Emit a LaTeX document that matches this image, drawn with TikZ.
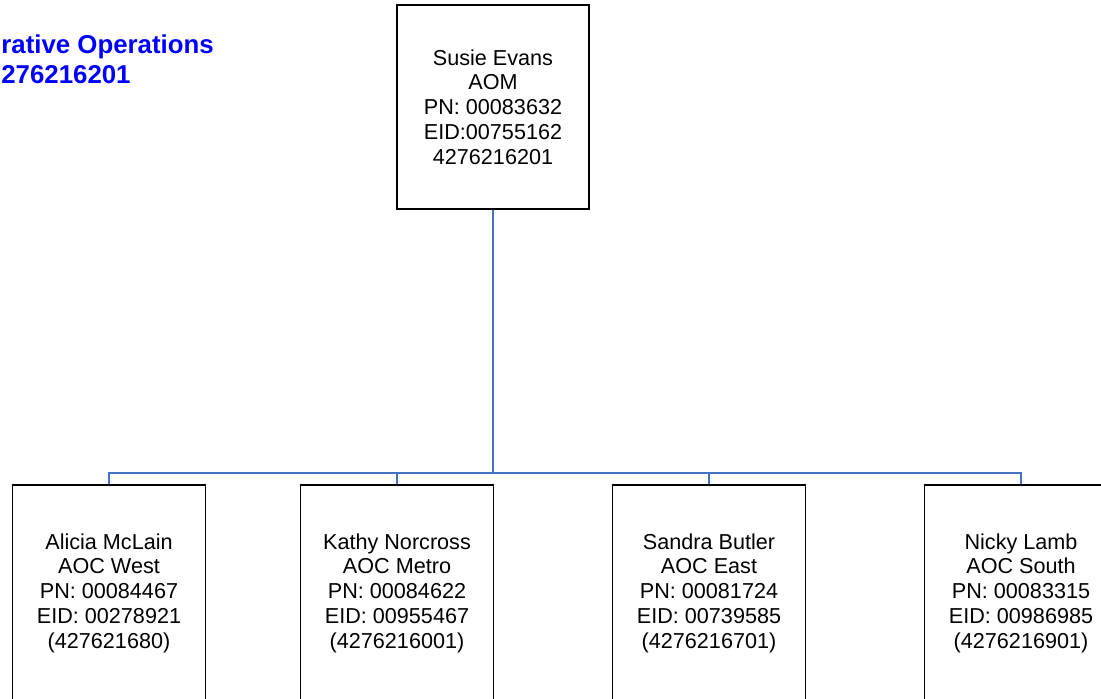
\documentclass[tikz,border=0pt]{standalone}
\usepackage{fontspec}
\setmainfont{Liberation Sans}
\usetikzlibrary{positioning}
\definecolor{linkblue}{RGB}{68,114,196}

\begin{document}
\begin{tikzpicture}[
			x=0.02cm, y=-0.02cm,
			person/.style={rectangle,draw=black,line width=0.8pt,fill=white,
			inner sep=0pt,align=center,minimum width=3.86cm,minimum height=4.32cm,
			font=\fontsize{12.3}{14.1}\selectfont},
			link/.style={draw=linkblue, line width=0.7pt},
			title/.style={align=left,inner sep=0pt,text=blue,
			font=\bfseries\fontsize{14.7}{17.6}\selectfont}
			]
			\path[use as bounding box, clip] (0,0) rectangle (1101,699);
			\node[title, anchor=base west] (head) at (1,84)
				{rative Operations\\276216201};
			\node[person, minimum width=3.84cm, minimum height=4.08cm] (aom) at (493,107)
				{Susie Evans\\AOM\\PN: 00083632\\EID:00755162\\4276216201};
			\node[person] (west) at (109,593)
				{Alicia McLain\\AOC West\\PN: 00084467\\EID: 00278921\\(427621680)};
			\node[person] (metro) at (397,593)
				{Kathy Norcross\\AOC Metro\\PN: 00084622\\EID: 00955467\\(4276216001)};
			\node[person] (east) at (709,593)
				{Sandra Butler\\AOC East\\PN: 00081724\\EID: 00739585\\(4276216701)};
			\node[person] (south) at (1021,593)
				{Nicky Lamb\\AOC South\\PN: 00083315\\EID: 00986985\\(4276216901)};
			\coordinate (bar) at (493,473);
			\draw[link] (aom.south) -- (bar);
			\foreach \n in {west,metro,east,south}
				\draw[link] (bar) -| (\n.north);
		\end{tikzpicture}
\end{document}
